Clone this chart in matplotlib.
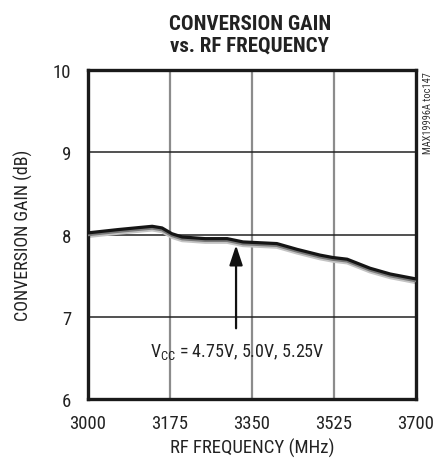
import matplotlib
matplotlib.use('Agg')
from matplotlib import pyplot as plt

# RF frequency (MHz) and conversion gain (dB)
freq_mhz = [3000, 3064, 3137, 3158, 3179, 3201, 3250, 3297, 3331, 3403,
            3446, 3495, 3523, 3553, 3602, 3645, 3700]
gain_top = [8.02, 8.06, 8.10, 8.08, 8.01, 7.97, 7.95, 7.95, 7.91, 7.89,
            7.82, 7.75, 7.72, 7.70, 7.59, 7.52, 7.46]
gain_mid = [8.00, 8.04, 8.08, 8.06, 7.99, 7.95, 7.93, 7.93, 7.89, 7.87,
            7.80, 7.73, 7.70, 7.68, 7.57, 7.50, 7.44]
gain_low = [7.98, 8.02, 8.06, 8.04, 7.97, 7.93, 7.91, 7.91, 7.87, 7.85,
            7.78, 7.71, 7.68, 7.66, 7.55, 7.48, 7.42]

x_ticks = [3000, 3175, 3350, 3525, 3700]
y_ticks = [6, 7, 8, 9, 10]
vcc_label = r'$\mathregular{V_{CC}}$ = 4.75V, 5.0V, 5.25V'

# condensed grotesque, close to the datasheet look
plt.rcParams['font.family'] = ['Roboto Condensed', 'Archivo Narrow', 'DejaVu Sans']
title_fonts = ['Roboto Condensed', 'Barlow Condensed', 'DejaVu Sans']

fig = plt.figure(figsize=(4.43, 4.60), dpi=100)
ax = fig.add_axes([0.1986, 0.1304, 0.7404, 0.7152])

# grid: gray verticals, black horizontals
for xv in x_ticks[1:-1]:
    ax.axvline(xv, color='#8c8c8c', lw=1.6, zorder=1)
for yv in y_ticks[1:-1]:
    ax.axhline(yv, color='#222222', lw=1.1, zorder=1)

ax.plot(freq_mhz, gain_low, color='#c4c4c4', lw=2.8, solid_joinstyle='round', zorder=2)
ax.plot(freq_mhz, gain_mid, color='#7a7a7a', lw=2.5, solid_joinstyle='round', zorder=3)
ax.plot(freq_mhz, gain_top, color='#151515', lw=2.3, solid_joinstyle='round', zorder=4)

ax.set_xlim(3000, 3700)
ax.set_ylim(6, 10)
ax.set_xticks(x_ticks)
ax.set_yticks(y_ticks)
ax.tick_params(length=0, labelsize=13.5, colors='#222222')
ax.tick_params(axis='y', pad=12)
ax.tick_params(axis='x', pad=11)
for s in ax.spines.values():
    s.set_linewidth(2.4)
    s.set_color('#1a1a1a')

ax.set_xlabel('RF FREQUENCY (MHz)', fontsize=13.5, color='#222222')
ax.xaxis.set_label_coords(0.5, -0.118)
ax.set_ylabel('CONVERSION GAIN (dB)', fontsize=13, color='#222222')
ax.yaxis.set_label_coords(-0.168, 0.5)

# arrow pointing to the curves and the supply label
ax.annotate('', xy=(3316, 7.87), xytext=(3316, 6.86),
            arrowprops=dict(arrowstyle='-|>,head_length=1.2,head_width=0.4',
                            color='#111111', lw=1.6, shrinkA=0, shrinkB=0),
            zorder=5)
ax.text(3318, 6.58, vcc_label, ha='center', va='center', fontsize=13, color='#222222')

fig.text(0.564, 0.968, 'CONVERSION GAIN\nvs. RF FREQUENCY', ha='center', va='top',
         fontsize=15, fontweight='bold', color='#222222', linespacing=1.2,
         family=title_fonts)
fig.text(0.966, 0.843, 'MAX19996A toc147', rotation=90, ha='center', va='top',
         fontsize=7.5, color='#333333')

fig.savefig('out.png', dpi=100)
